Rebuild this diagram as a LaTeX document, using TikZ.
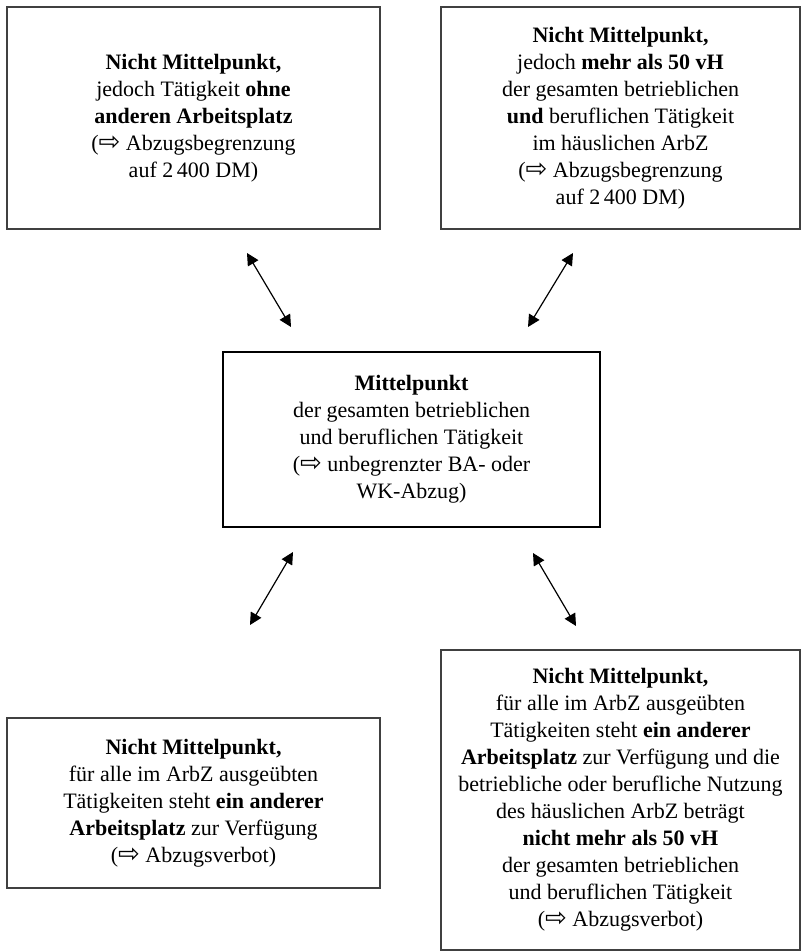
\documentclass[tikz,border=0pt]{standalone}
\usepackage{fontspec}
\setmainfont{Liberation Serif}
\newfontfamily\dejavu{DejaVu Sans}
\usetikzlibrary{arrows.meta}
\newcommand{\pfeil}{{\dejavu\fontsize{13}{13}\selectfont\char"21E8}}
\begin{document}
\begin{tikzpicture}[x=0.5pt,y=-0.5pt,line cap=butt,line join=miter,
	feld/.style={draw=black!75,line width=0.8pt,align=center,inner sep=0pt,font=\fontsize{11}{13.5}\selectfont},
	mitte/.style={feld,draw=black,line width=1.3pt},
	pfeile/.style={{Triangle[length=6pt,width=6pt]}-{Triangle[length=6pt,width=6pt]},line width=0.6pt}]
	\useasboundingbox (0,0) rectangle (803,952);
	\node[feld,minimum width=186.5pt,minimum height=111pt] (ohne) at (193.5,118) {\textbf{Nicht Mittelpunkt,}\\ jedoch Tätigkeit \textbf{ohne}\\ \textbf{anderen Arbeitsplatz}\\ (\pfeil\ Abzugsbegrenzung\\ auf 2\,400 DM)};
	\node[feld,minimum width=179.5pt,minimum height=111pt] (mehr) at (620.5,118) {\textbf{Nicht Mittelpunkt,}\\ jedoch \textbf{mehr als 50 vH}\\ der gesamten betrieblichen\\ \textbf{und} beruflichen Tätigkeit\\ im häuslichen ArbZ\\ (\pfeil\ Abzugsbegrenzung\\ auf 2\,400 DM)};
	\node[mitte,minimum width=188.5pt,minimum height=87.5pt] (mp) at (411.5,439.5) {\textbf{Mittelpunkt}\\ der gesamten betrieblichen\\ und beruflichen Tätigkeit\\ (\pfeil\ unbegrenzter BA- oder\\ WK-Abzug)};
	\node[feld,minimum width=186.5pt,minimum height=85pt] (anderer) at (193.5,803) {\textbf{Nicht Mittelpunkt,}\\ für alle im ArbZ ausgeübten\\ Tätigkeiten steht \textbf{ein anderer}\\ \textbf{Arbeitsplatz} zur Verfügung\\ (\pfeil\ Abzugsverbot)};
	\node[feld,minimum width=179.5pt,minimum height=150pt] (weniger) at (620.5,800) {\textbf{Nicht Mittelpunkt,}\\ für alle im ArbZ ausgeübten\\ Tätigkeiten steht \textbf{ein anderer}\\ \textbf{Arbeitsplatz} zur Verfügung und die\\ betriebliche oder berufliche Nutzung\\ des häuslichen ArbZ beträgt\\ \textbf{nicht mehr als 50 vH}\\ der gesamten betrieblichen\\ und beruflichen Tätigkeit\\ (\pfeil\ Abzugsverbot)};
	% Doppelpfeile zwischen den Feldern
	\coordinate (ohne-a) at (247,253); \coordinate (ohne-b) at (291,327);
	\coordinate (mehr-a) at (573,253); \coordinate (mehr-b) at (528,327);
	\coordinate (anderer-a) at (293,552); \coordinate (anderer-b) at (250,625);
	\coordinate (weniger-a) at (533,553); \coordinate (weniger-b) at (576,626);
	\draw[pfeile] (ohne-a)--(ohne-b);
	\draw[pfeile] (mehr-a)--(mehr-b);
	\draw[pfeile] (anderer-a)--(anderer-b);
	\draw[pfeile] (weniger-a)--(weniger-b);
\end{tikzpicture}
\end{document}
